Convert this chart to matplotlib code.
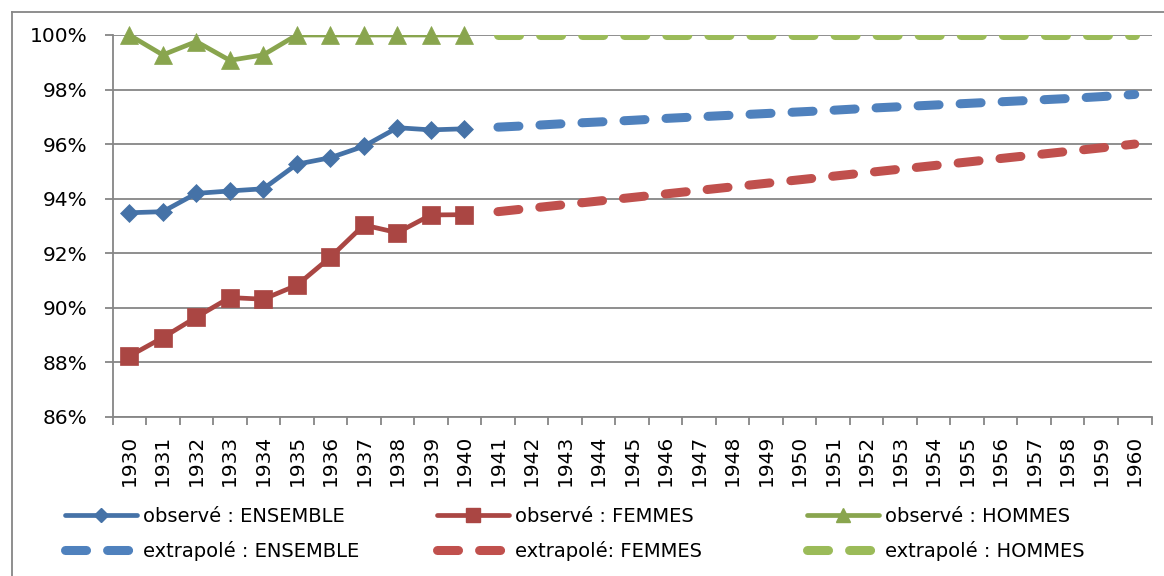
import matplotlib
matplotlib.use("Agg")
import matplotlib.pyplot as plt
from matplotlib.lines import Line2D

plt.rcParams['font.family'] = ['DejaVu Sans']

years = list(range(1930, 1961))
obs_years = list(range(1930, 1941))
ext_years = list(range(1941, 1961))

obs_ensemble = [93.48, 93.52, 94.19, 94.28, 94.36, 95.26, 95.50, 95.92, 96.60, 96.52, 96.56]
obs_femmes = [88.22, 88.90, 89.65, 90.37, 90.31, 90.82, 91.85, 93.03, 92.75, 93.40, 93.41]
obs_hommes = [100.0, 99.27, 99.76, 99.07, 99.27, 100.0, 100.0, 100.0, 100.0, 100.0, 100.0]

ext_ensemble = [96.62, 96.68, 96.75, 96.81, 96.87, 96.94, 97.00, 97.06, 97.12, 97.18,
                97.24, 97.31, 97.37, 97.43, 97.49, 97.55, 97.61, 97.67, 97.74, 97.82]
ext_femmes = [93.52, 93.65, 93.78, 93.91, 94.04, 94.17, 94.30, 94.43, 94.56, 94.69,
              94.82, 94.95, 95.08, 95.21, 95.34, 95.47, 95.60, 95.73, 95.86, 96.00]
ext_hommes = [100.0] * 20

labels_obs = ["observé : ENSEMBLE", "observé : FEMMES", "observé : HOMMES"]
labels_ext = ["extrapolé : ENSEMBLE", "extrapolé: FEMMES", "extrapolé : HOMMES"]
yticks = [86, 88, 90, 92, 94, 96, 98, 100]

c_obs = ['#4572A7', '#AA4643', '#89A54E']
c_ext = ['#4F81BD', '#C0504D', '#9BBB59']
markers = ['D', 's', '^']
msizes = [9.5, 13.5, 13.5]
leg_msizes = [7.5, 10.5, 10.5]

W, H = 1164, 576
fig = plt.figure(figsize=(W / 100, H / 100), dpi=100)
ax = fig.add_axes([112.5 / W, 1 - 416.7 / H, (1151.5 - 112.5) / W, (416.7 - 35) / H])

grid_c = '#868686'
idx = {y: i for i, y in enumerate(years)}
xo = [idx[y] for y in obs_years]
xe = [idx[y] for y in ext_years]

obs_all = [obs_ensemble, obs_femmes, obs_hommes]
ext_all = [ext_ensemble, ext_femmes, ext_hommes]

for k in range(3):
    ax.plot(xo, obs_all[k], color=c_obs[k], lw=3.4, solid_capstyle='round', zorder=3 + k)
    ax.plot(xo, obs_all[k], linestyle='none', marker=markers[k], ms=msizes[k],
            color=c_obs[k], mec=c_obs[k], mew=0.5, clip_on=False, zorder=3 + k)
for k in range(3):
    ax.plot(xe, ext_all[k], color=c_ext[k], lw=6.5, dashes=(2.33, 2.33),
            dash_capstyle='round', zorder=6 + k)

ax.set_xlim(-0.5, len(years) - 0.5)
ax.set_ylim(86, 100)
ax.set_yticks(yticks)
ax.set_yticklabels([f"{v}%" for v in yticks])
ax.yaxis.grid(True, color=grid_c, lw=1.3)
ax.set_axisbelow(True)

ax.set_xticks([i - 0.5 for i in range(len(years) + 1)])
ax.set_xticklabels([])
ax.set_xticks(range(len(years)), minor=True)
ax.set_xticklabels([str(y) for y in years], minor=True, rotation=90)
ax.tick_params(axis='x', which='major', length=5.5, width=1.3, color=grid_c)
ax.tick_params(axis='x', which='minor', length=0, pad=13, labelsize=14.5)
ax.tick_params(axis='y', length=5.8, width=1.3, color=grid_c, pad=12, labelsize=14.5)

for s in ['top', 'right']:
    ax.spines[s].set_visible(False)
for s in ['left', 'bottom']:
    ax.spines[s].set_color(grid_c)
    ax.spines[s].set_linewidth(1.3)

# legends, one per column
col_x = [65, 437, 807]
fs = 14
for k in range(3):
    h_obs = Line2D([], [], color=c_obs[k], lw=3.4, marker=markers[k], ms=leg_msizes[k],
                   mec=c_obs[k], solid_capstyle='round')
    h_ext = Line2D([], [], color=c_ext[k], lw=6.5, dashes=(2.33, 2.33), dash_capstyle='round')
    fig.legend([h_obs, h_ext], [labels_obs[k], labels_ext[k]], loc='center left',
               bbox_to_anchor=(col_x[k] / W, 1 - 534 / H), frameon=False,
               fontsize=fs, handlelength=3.7, handletextpad=0.3, borderpad=0,
               borderaxespad=0, labelspacing=0.78, numpoints=1)

# outer frame (left and top edges visible)
fig.add_artist(Line2D([11.5 / W, 11.5 / W], [0, 1 - 12 / H], color=grid_c, lw=1.3,
                      transform=fig.transFigure))
fig.add_artist(Line2D([11.5 / W, 1], [1 - 12 / H, 1 - 12 / H], color=grid_c, lw=1.3,
                      transform=fig.transFigure))

fig.savefig("out.png", dpi=100, facecolor='white')
